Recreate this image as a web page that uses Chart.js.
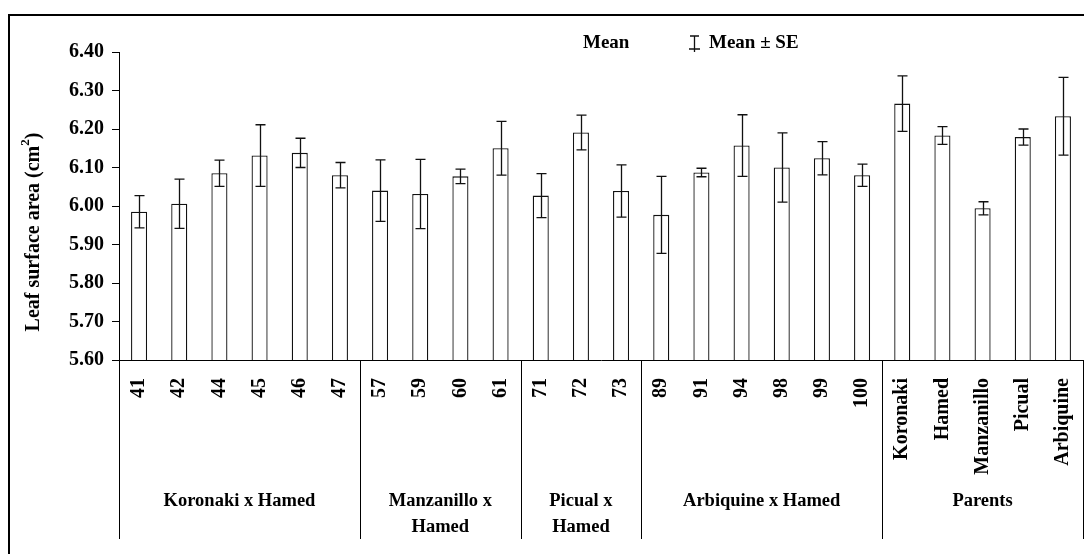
<!DOCTYPE html>
<html>
<head>
<meta charset="utf-8">
<script src="https://cdn.jsdelivr.net/npm/chart.js@4.4.0/dist/chart.umd.min.js"></script>
<style>
  html, body { margin: 0; padding: 0; background: #fff; }
  #wrap { width: 1084px; height: 554px; }
</style>
</head>
<body>
<div id="wrap"><canvas id="c" width="1084" height="554"></canvas></div>
<script>
// ---- Data ----
const categories = ['41','42','44','45','46','47','57','59','60','61','71','72','73','89','91','94','98','99','100','Koronaki','Hamed','Manzanillo','Picual','Arbiquine'];
const means = [5.985, 6.006, 6.085, 6.131, 6.138, 6.080, 6.040, 6.031, 6.077, 6.150, 6.027, 6.191, 6.039, 5.977, 6.087, 6.157, 6.100, 6.124, 6.080, 6.266, 6.183, 5.994, 6.179, 6.233];
const se = [0.042, 0.064, 0.034, 0.080, 0.038, 0.033, 0.080, 0.090, 0.019, 0.070, 0.057, 0.045, 0.068, 0.100, 0.011, 0.080, 0.090, 0.043, 0.029, 0.072, 0.023, 0.017, 0.021, 0.101];
const groupNames = [['Koronaki x Hamed'], ['Manzanillo x', 'Hamed'], ['Picual x', 'Hamed'], ['Arbiquine x Hamed'], ['Parents']];
const groupSizes = [6, 4, 3, 6, 5];
const yMin = 5.6, yMax = 6.4, yStep = 0.1;
const yTitle = 'Leaf surface area (cm';
const legendMean = 'Mean';
const legendSE = 'Mean \u00b1 SE';

const FONT = '"Liberation Serif", "Times New Roman", serif';

const extras = {
  id: 'extras',
  beforeDraw(chart) {
    const ctx = chart.ctx;
    ctx.save();
    ctx.fillStyle = '#fff';
    ctx.fillRect(0, 0, chart.width, chart.height);
    ctx.strokeStyle = '#000';
    ctx.lineWidth = 2;
    ctx.beginPath();
    ctx.moveTo(9, 554);
    ctx.lineTo(9, 15);
    ctx.lineTo(1084, 15);
    ctx.stroke();
    ctx.restore();
  },
  afterDatasetsDraw(chart) {
    const ctx = chart.ctx;
    const x = chart.scales.x, y = chart.scales.y;
    ctx.save();
    ctx.strokeStyle = '#111';
    ctx.lineWidth = 1.3;
    for (let i = 0; i < means.length; i++) {
      const px = Math.round(x.getPixelForValue(i)) + 0.5;
      const top = y.getPixelForValue(means[i] + se[i]);
      const bot = y.getPixelForValue(means[i] - se[i]);
      ctx.beginPath();
      ctx.moveTo(px, top); ctx.lineTo(px, bot);
      ctx.moveTo(px - 5, top); ctx.lineTo(px + 5, top);
      ctx.moveTo(px - 5, bot); ctx.lineTo(px + 5, bot);
      ctx.stroke();
    }
    ctx.restore();
  },
  afterDraw(chart) {
    const ctx = chart.ctx;
    const x = chart.scales.x;
    const area = chart.chartArea;
    ctx.save();
    ctx.strokeStyle = '#000';
    ctx.lineWidth = 1;
    // group separators
    const bottomY = 539;
    let idx = 0;
    const bounds = [area.left];
    for (let g = 0; g < groupSizes.length; g++) {
      idx += groupSizes[g];
      if (idx < categories.length) {
        bounds.push((x.getPixelForValue(idx - 1) + x.getPixelForValue(idx)) / 2);
      } else {
        bounds.push(area.right);
      }
    }
    ctx.beginPath();
    bounds.forEach(bx => {
      const b = Math.round(bx) + 0.5;
      ctx.moveTo(b, area.bottom); ctx.lineTo(b, bottomY);
    });
    ctx.stroke();
    // group labels
    ctx.fillStyle = '#000';
    ctx.font = 'bold 18.5px ' + FONT;
    ctx.textAlign = 'center';
    ctx.textBaseline = 'middle';
    for (let g = 0; g < groupNames.length; g++) {
      const cx = (bounds[g] + bounds[g + 1]) / 2;
      groupNames[g].forEach((line, k) => {
        ctx.fillText(line, cx, 501 + k * 26);
      });
    }
    // legend
    ctx.font = 'bold 19px ' + FONT;
    ctx.textAlign = 'left';
    ctx.textBaseline = 'alphabetic';
    ctx.fillText(legendMean, 583, 48);
    ctx.fillText(legendSE, 709, 48);
    ctx.strokeStyle = '#111';
    ctx.lineWidth = 1.3;
    ctx.beginPath();
    ctx.moveTo(694.5, 36); ctx.lineTo(694.5, 52);
    ctx.moveTo(690, 36); ctx.lineTo(699, 36);
    ctx.moveTo(689, 49); ctx.lineTo(700, 49);
    ctx.stroke();
    // y title
    ctx.translate(34, 232);
    ctx.rotate(-Math.PI / 2);
    ctx.font = 'bold 20px ' + FONT;
    const w1 = ctx.measureText(yTitle).width;
    ctx.font = 'bold 13px ' + FONT;
    const w2 = ctx.measureText('2').width;
    ctx.font = 'bold 20px ' + FONT;
    const w3 = ctx.measureText(')').width;
    const total = w1 + w2 + w3;
    let sx = -total / 2;
    ctx.textBaseline = 'middle';
    ctx.fillText(yTitle, sx, 0);
    sx += w1;
    ctx.font = 'bold 13px ' + FONT;
    ctx.fillText('2', sx, -8);
    sx += w2;
    ctx.font = 'bold 20px ' + FONT;
    ctx.fillText(')', sx, 0);
    ctx.restore();
  }
};

new Chart(document.getElementById('c'), {
  type: 'bar',
  data: {
    labels: categories,
    datasets: [{
      label: legendMean,
      data: means,
      backgroundColor: '#fff',
      borderColor: '#111',
      borderWidth: 1.3,
      barPercentage: 0.4,
      categoryPercentage: 1.0
    }]
  },
  options: {
    responsive: false,
    animation: false,
    devicePixelRatio: 1,
    layout: { padding: { left: 0, top: 52, right: 1, bottom: 0 } },
    plugins: { legend: { display: false }, tooltip: { enabled: false } },
    scales: {
      x: {
        grid: { display: false },
        border: { display: true, color: '#000', width: 1 },
        ticks: {
          color: '#000',
          font: { family: FONT, size: 20, weight: 'bold' },
          minRotation: 90, maxRotation: 90,
          autoSkip: false,
          padding: 10
        },
        afterFit(s) { s.height = 194; s.paddingLeft = 0; s.paddingRight = 0; }
      },
      y: {
        min: yMin, max: yMax,
        grid: { display: true, drawOnChartArea: false, drawTicks: true, tickLength: 7, color: '#000' },
        border: { display: true, color: '#000', width: 1 },
        ticks: {
          stepSize: yStep,
          color: '#000',
          font: { family: FONT, size: 20, weight: 'bold' },
          padding: 8,
          callback: v => Number(v).toFixed(2)
        },
        afterFit(s) { s.width = 119; s.paddingTop = 0; s.paddingBottom = 0; }
      }
    }
  },
  plugins: [extras]
});
</script>
</body>
</html>
